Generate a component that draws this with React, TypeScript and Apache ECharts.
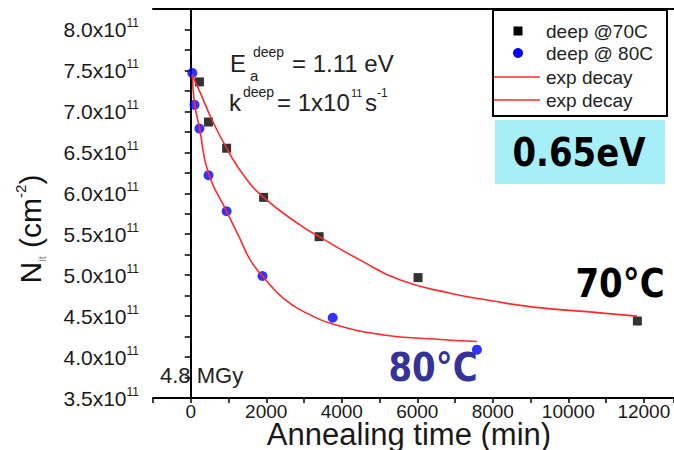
import React, { useEffect, useRef } from 'react';
import * as echarts from 'echarts';

// Annealing time (min) and N_it (x10^11 cm^-2)
const deep70Time = [230, 470, 950, 1930, 3400, 6020, 11830];
const deep70Nit = [7.36, 6.87, 6.55, 5.95, 5.47, 4.97, 4.44];
const deep80Time = [40, 100, 230, 470, 950, 1900, 3760, 7580];
const deep80Nit = [7.47, 7.08, 6.79, 6.22, 5.78, 4.99, 4.48, 4.09];

// exp decay fit curves
const fit70Time = [40, 230, 560, 950, 1400, 1930, 2900, 3400, 4500, 5550, 6870, 7930, 9080, 10850, 11820];
const fit70Nit = [7.44, 7.25, 6.9, 6.55, 6.22, 5.95, 5.61, 5.47, 5.18, 4.94, 4.78, 4.69, 4.61, 4.54, 4.5];
const fit80Time = [40, 100, 230, 470, 950, 1300, 1570, 1900, 2470, 3100, 3780, 5110, 6430, 7580];
const fit80Nit = [7.45, 7.1, 6.8, 6.24, 5.78, 5.45, 5.19, 4.99, 4.71, 4.53, 4.4, 4.27, 4.22, 4.19];

const xTickLabels = [0, 2000, 4000, 6000, 8000, 10000, 12000];
const yTickLabels = [3.5, 4.0, 4.5, 5.0, 5.5, 6.0, 6.5, 7.0, 7.5, 8.0];

const legendNames = ['deep @70C', 'deep @ 80C', 'exp decay', 'exp decay'];

const FONT = '"Liberation Sans", Arial, sans-serif';
const COMIC = '"DejaVu Sans", sans-serif';

const zip = (xs: number[], ys: number[]) => xs.map((x, i) => [x, ys[i]]);

export default function App() {
  const ref = useRef<HTMLDivElement>(null);
  useEffect(() => {
    const chart = echarts.init(ref.current!, null, { renderer: 'svg' });
    const option: any = {
      animation: false,
      backgroundColor: '#ffffff',
      grid: { left: 153, right: 0, top: 9, bottom: 52, containLabel: false, outerBoundsMode: 'none' },
      xAxis: [
        {
          type: 'value',
          min: -1000,
          max: 12800,
          interval: 1000,
          axisLine: { show: true, lineStyle: { color: '#000', width: 2 } },
          axisTick: { show: true, inside: false, length: 5, lineStyle: { color: '#000', width: 1.5 } },
          axisLabel: {
            margin: 4,
            fontFamily: FONT,
            fontSize: 19,
            color: '#1a1a1a',
            formatter: (v: number) => (xTickLabels.includes(v) ? String(v) : ''),
          },
          splitLine: { show: false },
        },
        {
          type: 'value',
          position: 'top',
          min: -1000,
          max: 12800,
          axisLine: { show: true, lineStyle: { color: '#000', width: 2 } },
          axisTick: { show: false },
          axisLabel: { show: false },
          splitLine: { show: false },
        },
      ],
      yAxis: {
        type: 'value',
        min: 3.5,
        max: 8.25,
        interval: 0.25,
        axisLine: { show: true, lineStyle: { color: '#000', width: 2 } },
        axisTick: { show: true, inside: false, length: 6, lineStyle: { color: '#000', width: 1.5 } },
        axisLabel: {
          margin: 14,
          formatter: (v: number) =>
            yTickLabels.some((t) => Math.abs(t - v) < 1e-6) ? `{m|${v.toFixed(1)}x10}{s|11}` : '',
          rich: {
            m: { fontFamily: FONT, fontSize: 21, color: '#1a1a1a', lineHeight: 24 },
            s: { fontFamily: FONT, fontSize: 12, color: '#1a1a1a', lineHeight: 12, verticalAlign: 'top' },
          },
        },
        splitLine: { show: false },
      },
      series: [
        {
          name: legendNames[0],
          type: 'scatter',
          symbol: 'rect',
          symbolSize: 9,
          itemStyle: { color: '#000000' },
          data: zip(deep70Time, deep70Nit),
          z: 2,
        },
        {
          name: legendNames[1],
          type: 'scatter',
          symbol: 'circle',
          symbolSize: 10,
          itemStyle: { color: '#0000ff' },
          data: zip(deep80Time, deep80Nit),
          z: 2,
        },
        {
          name: legendNames[2],
          type: 'line',
          smooth: 0.5,
          showSymbol: false,
          lineStyle: { color: '#ff2a2a', width: 1.6 },
          data: zip(fit70Time, fit70Nit),
          z: 3,
        },
        {
          name: legendNames[3],
          type: 'line',
          smooth: 0.5,
          showSymbol: false,
          lineStyle: { color: '#ff2a2a', width: 1.6 },
          data: zip(fit80Time, fit80Nit),
          z: 3,
        },
      ],
      graphic: [
        // legend box
        { type: 'rect', shape: { x: 493, y: 10, width: 174, height: 106 }, style: { fill: '#fff', stroke: '#000', lineWidth: 2 }, z: 10 },
        { type: 'rect', shape: { x: 513.5, y: 26.5, width: 9, height: 9 }, style: { fill: '#000' }, z: 11 },
        { type: 'circle', shape: { cx: 518, cy: 53, r: 5 }, style: { fill: '#0000ff' }, z: 11 },
        { type: 'line', shape: { x1: 494, y1: 77, x2: 540, y2: 77 }, style: { stroke: '#ff2a2a', lineWidth: 1.6 }, z: 11 },
        { type: 'line', shape: { x1: 494, y1: 100, x2: 540, y2: 100 }, style: { stroke: '#ff2a2a', lineWidth: 1.6 }, z: 11 },
        ...[31, 53, 77, 100].map((y, i) => ({
          type: 'text',
          x: 546,
          y,
          z: 11,
          style: { text: legendNames[i], font: `19px ${FONT}`, fill: '#222', align: 'left', verticalAlign: 'middle' },
        })),
        // cyan box
        { type: 'rect', shape: { x: 495, y: 120, width: 170, height: 64 }, style: { fill: '#a6eff9' }, z: 10 },
        {
          type: 'text', x: 579, y: 153, scaleY: 1.15, z: 11,
          style: { text: '0.65eV', font: `bold 34px ${COMIC}`, fill: '#000', align: 'center', verticalAlign: 'middle' },
        },
        {
          type: 'text', x: 620, y: 284, scaleY: 1.15, z: 11,
          style: { text: '70°C', font: `bold 34px ${COMIC}`, fill: '#000', align: 'center', verticalAlign: 'middle' },
        },
        {
          type: 'text', x: 433, y: 368, scaleY: 1.15, z: 11,
          style: { text: '80°C', font: `bold 34px ${COMIC}`, fill: '#333399', align: 'center', verticalAlign: 'middle' },
        },
        // formula texts
        { type: 'text', x: 230, y: 63, z: 11, style: { text: 'E', font: `24px ${FONT}`, fill: '#222', align: 'left', verticalAlign: 'middle' } },
        { type: 'text', x: 250, y: 75, z: 11, style: { text: 'a', font: `15px ${FONT}`, fill: '#222', align: 'left', verticalAlign: 'middle' } },
        { type: 'text', x: 253, y: 52, z: 11, style: { text: 'deep', font: `14px ${FONT}`, fill: '#222', align: 'left', verticalAlign: 'middle' } },
        { type: 'text', x: 292, y: 63, z: 11, style: { text: '= 1.11 eV', font: `24px ${FONT}`, fill: '#222', align: 'left', verticalAlign: 'middle' } },
        { type: 'text', x: 229, y: 102, z: 11, style: { text: 'k', font: `24px ${FONT}`, fill: '#222', align: 'left', verticalAlign: 'middle' } },
        { type: 'text', x: 243, y: 92, z: 11, style: { text: 'deep', font: `14px ${FONT}`, fill: '#222', align: 'left', verticalAlign: 'middle' } },
        { type: 'text', x: 277, y: 102, z: 11, style: { text: '= 1x10', font: `24px ${FONT}`, fill: '#222', align: 'left', verticalAlign: 'middle' } },
        { type: 'text', x: 351, y: 93, z: 11, style: { text: '11', font: `11px ${FONT}`, fill: '#222', align: 'left', verticalAlign: 'middle' } },
        { type: 'text', x: 365, y: 102, z: 11, style: { text: 's', font: `24px ${FONT}`, fill: '#222', align: 'left', verticalAlign: 'middle' } },
        { type: 'text', x: 377, y: 93, z: 11, style: { text: '-1', font: `12px ${FONT}`, fill: '#222', align: 'left', verticalAlign: 'middle' } },
        // dose
        { type: 'text', x: 160, y: 375, z: 11, style: { text: '4.8 MGy', font: `22px ${FONT}`, fill: '#222', align: 'left', verticalAlign: 'middle' } },
        // axis titles
        {
          type: 'text', x: 409, y: 434, z: 11,
          style: { text: 'Annealing time (min)', font: `31px ${FONT}`, fill: '#1a1a1a', align: 'center', verticalAlign: 'middle' },
        },
        {
          type: 'text', x: 30, y: 229, rotation: Math.PI / 2, z: 11,
          style: {
            text: '{n|N}{i|it}{p| (cm}{s|-2}{p|)}',
            align: 'center',
            verticalAlign: 'middle',
            rich: {
              n: { fontFamily: FONT, fontSize: 30, fill: '#111', lineHeight: 34 },
              p: { fontFamily: FONT, fontSize: 30, fill: '#111', lineHeight: 34 },
              i: { fontFamily: FONT, fontSize: 11, fill: '#888', lineHeight: 11, verticalAlign: 'bottom' },
              s: { fontFamily: FONT, fontSize: 15, fill: '#111', lineHeight: 15, verticalAlign: 'top' },
            },
          },
        },
      ],
    };
    chart.setOption(option);
    return () => chart.dispose();
  }, []);
  return <div ref={ref} style={{ position: 'fixed', left: 0, top: 0, width: 674, height: 450 }} />;
}
